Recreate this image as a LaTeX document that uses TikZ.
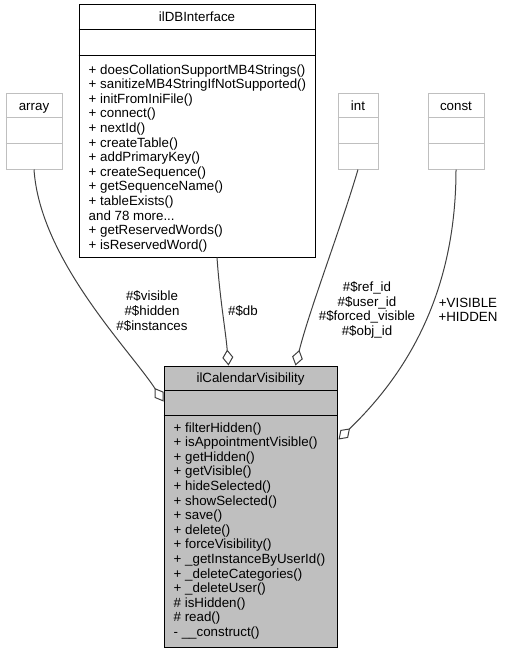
\documentclass[tikz,border=0pt]{standalone}
\usepackage{fontspec}
\setmainfont{Liberation Sans}
\usetikzlibrary{arrows.meta,calc}
\definecolor{edgegray}{RGB}{64,64,64}
\definecolor{boxgray}{RGB}{191,191,191}
\definecolor{lightborder}{RGB}{191,191,191}
\tikzset{
  txt/.style={font=\fontsize{13.33}{14.6}\selectfont, inner sep=0pt},
  lightbox/.style={draw=lightborder, fill=white, line width=1pt, inner sep=0pt},
  darkbox/.style={draw=black, fill=white, line width=1pt, inner sep=0pt},
  focusbox/.style={draw=black, fill=boxgray, line width=1pt, inner sep=0pt},
  lightsep/.style={draw=lightborder, line width=1pt},
  darksep/.style={draw=black, line width=1pt},
  rel/.style={draw=edgegray, line width=1pt, -{Diamond[length=16pt,width=11pt,fill=white]}},
  lbl/.style={txt, align=center},
  title/.style={txt, anchor=base},
  members/.style={txt, anchor=base west},
}
\begin{document}
\begin{tikzpicture}[x=1pt,y=-1pt]
\useasboundingbox (0,0) rectangle (508,653);

% ---- array ----
\node[lightbox, minimum width=56pt, minimum height=76pt] (array) at (34,131) {};
\draw[lightsep] ($(array.north west)+(0,25)$) -- ($(array.north east)+(0,25)$);
\draw[lightsep] ($(array.north west)+(0,51)$) -- ($(array.north east)+(0,51)$);
\node[title] (arrayT) at ($(array.north)+(0,17.5)$) {array};

% ---- int ----
\node[lightbox, minimum width=40pt, minimum height=76pt] (int) at (358,131) {};
\draw[lightsep] ($(int.north west)+(0,25)$) -- ($(int.north east)+(0,25)$);
\draw[lightsep] ($(int.north west)+(0,51)$) -- ($(int.north east)+(0,51)$);
\node[title] (intT) at ($(int.north)+(0,17.5)$) {int};

% ---- const ----
\node[lightbox, minimum width=56pt, minimum height=76pt] (const) at (456,131) {};
\draw[lightsep] ($(const.north west)+(0,25)$) -- ($(const.north east)+(0,25)$);
\draw[lightsep] ($(const.north west)+(0,51)$) -- ($(const.north east)+(0,51)$);
\node[title] (constT) at ($(const.north)+(0,17.5)$) {const};

% ---- ilDBInterface ----
\node[darkbox, minimum width=236pt, minimum height=253pt] (db) at (197,130.5) {};
\draw[darksep] ($(db.north west)+(0,26)$) -- ($(db.north east)+(0,26)$);
\draw[darksep] ($(db.north west)+(0,52)$) -- ($(db.north east)+(0,52)$);
\node[title] (dbT) at ($(db.north)+(0,17.5)$) {ilDBInterface};
\node[members] (dbM) at ($(db.north west)+(10,70.5)$) {\begin{tabular}[t]{@{}l@{}}
+ doesCollationSupportMB4Strings()\\
+ sanitizeMB4StringIfNotSupported()\\
+ initFromIniFile()\\
+ connect()\\
+ nextId()\\
+ createTable()\\
+ addPrimaryKey()\\
+ createSequence()\\
+ getSequenceName()\\
+ tableExists()\\
and 78 more...\\
+ getReservedWords()\\
+ isReservedWord()
\end{tabular}};

% ---- ilCalendarVisibility ----
\node[focusbox, minimum width=173pt, minimum height=281pt] (cal) at (250.5,506.5) {};
\draw[darksep] ($(cal.north west)+(0,25)$) -- ($(cal.north east)+(0,25)$);
\draw[darksep] ($(cal.north west)+(0,50)$) -- ($(cal.north east)+(0,50)$);
\node[title] (calT) at ($(cal.north)+(0,17)$) {ilCalendarVisibility};
\node[members] (calM) at ($(cal.north west)+(10,66.5)$) {\begin{tabular}[t]{@{}l@{}}
+ filterHidden()\\
+ isAppointmentVisible()\\
+ getHidden()\\
+ getVisible()\\
+ hideSelected()\\
+ showSelected()\\
+ save()\\
+ delete()\\
+ forceVisibility()\\
+ \_getInstanceByUserId()\\
+ \_deleteCategories()\\
+ \_deleteUser()\\
\# isHidden()\\
\# read()\\
- \_\_construct()
\end{tabular}};

% ---- relations ----
\draw[rel] (array.south) .. controls ($(array.south)+(6,90)$) and ($(cal.north west)+(-34,-16)$) .. ($(cal.north west)+(0,36)$);
\draw[rel] ($(db.south)+(20,0)$) .. controls ($(db.south)+(23,43)$) and ($(cal.north west)+(62,-36)$) .. ($(cal.north west)+(65,0)$);
\draw[rel] (int.south) .. controls ($(int.south)+(-18,61)$) and ($(cal.north west)+(146,-56)$) .. ($(cal.north west)+(132,0)$);
\draw[rel] (const.south) .. controls ($(const.south)+(0,131)$) and ($(cal.north east)+(63,14)$) .. ($(cal.north east)+(1,74)$);

% ---- labels ----
\node[lbl] (lArr) at (152,311) {\#\$visible\\\#\$hidden\\\#\$instances};
\node[lbl] (lDb) at (243,311) {\#\$db};
\node[lbl] (lInt) at (367,310) {\#\$ref\_id\\\#\$user\_id\\\#\$forced\_visible\\\#\$obj\_id};
\node[lbl] (lConst) at (468,310) {+VISIBLE\\+HIDDEN};
\end{tikzpicture}
\end{document}
